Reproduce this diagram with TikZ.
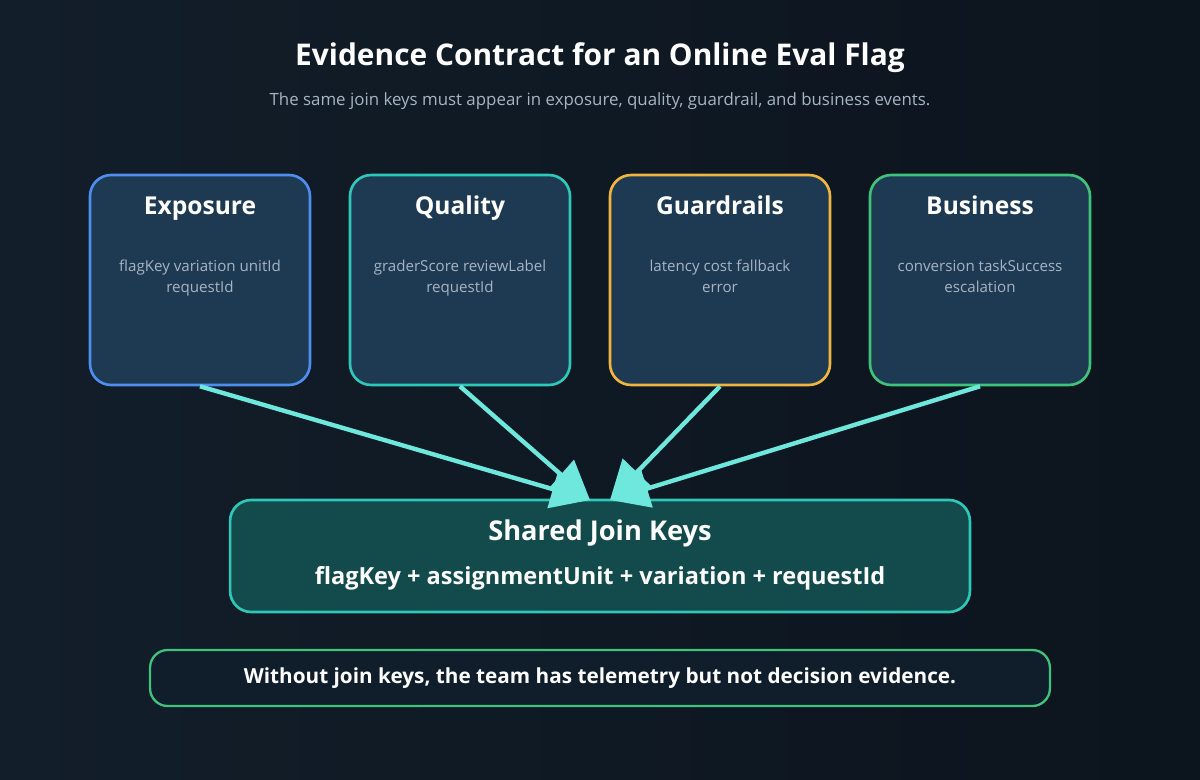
\documentclass[tikz,border=0pt]{standalone}
\usepackage{fontspec}
\setmainfont{Open Sans}
\usetikzlibrary{arrows.meta}
\definecolor{bgA}{HTML}{121E2A}
\definecolor{bgB}{HTML}{0C141D}
\definecolor{cardfill}{HTML}{1E3A52}
\definecolor{keyfill}{HTML}{134A4C}
\definecolor{notefill}{HTML}{0F1E2A}
\definecolor{cblue}{HTML}{4F8DF0}
\definecolor{cteal}{HTML}{2EC8B8}
\definecolor{camber}{HTML}{F2B441}
\definecolor{cgreen}{HTML}{3EC47A}
\definecolor{arrowc}{HTML}{6EE7DD}
\definecolor{subtxt}{HTML}{A7B4C2}
\tikzset{
  card/.style={rectangle, rounded corners=12pt, line width=1.5pt, fill=cardfill,
    minimum width=4.4cm, minimum height=4.2cm},
  cardtitle/.style={text=white, anchor=base, font=\bfseries\fontsize{14}{17}\selectfont},
  cardtext/.style={text=subtxt, font=\fontsize{8.6}{12}\selectfont, align=center},
  link/.style={arrowc, line width=2.5pt, -{Triangle[length=22pt,width=22pt]}}
}
\begin{document}
\begin{tikzpicture}[x=0.02cm,y=-0.02cm]
  \shade[left color=bgA, right color=bgB] (0,0) rectangle (1200,780);
  \useasboundingbox (0,0) rectangle (1200,780);
  \node[text=white, font=\bfseries\fontsize{17}{20}\selectfont] (title) at (600,58) {Evidence Contract for an Online Eval Flag};
  \node[text=subtxt, font=\fontsize{9.6}{12}\selectfont] (subtitle) at (600,101) {The same join keys must appear in exposure, quality, guardrail, and business events.};
  % source cards
  \foreach \name/\col/\x/\ttl/\txt in {
      exposure/cblue/200/Exposure/{flagKey variation unitId\\requestId},
      quality/cteal/460/Quality/{graderScore reviewLabel\\requestId},
      guardrails/camber/720/Guardrails/{latency cost fallback\\error},
      business/cgreen/980/Business/{conversion taskSuccess\\escalation}}{
    \node[card, draw=\col] (\name) at (\x,280) {};
    \node[cardtitle] at (\x,215) {\ttl};
    \node[cardtext, anchor=north] at (\x,254) {\txt};
  }
  % shared keys
  \node[rectangle, rounded corners=12pt, line width=1.5pt, draw=cteal, fill=keyfill,
    minimum width=14.8cm, minimum height=2.24cm] (keys) at (600,556) {};
  \node[text=white, font=\bfseries\fontsize{15.5}{18}\selectfont] (keystitle) at (600,533) {Shared Join Keys};
  \node[text=white, font=\bfseries\fontsize{13.4}{16}\selectfont] (keyslist) at (600,578) {flagKey + assignmentUnit + variation + requestId};
  \coordinate (inA) at (590,500);
  \coordinate (inB) at (610,500);
  \draw[link] (exposure.south) -- (inA);
  \draw[link] (quality.south) -- (inA);
  \draw[link] (guardrails.south) -- (inB);
  \draw[link] (business.south) -- (inB);
  % note
  \node[rectangle, rounded corners=10pt, line width=1.3pt, draw=cgreen, fill=notefill,
    minimum width=18cm, minimum height=1.12cm, text=white,
    font=\bfseries\fontsize{11.8}{14}\selectfont] (note) at (600,678)
    {Without join keys, the team has telemetry but not decision evidence.};
\end{tikzpicture}
\end{document}
